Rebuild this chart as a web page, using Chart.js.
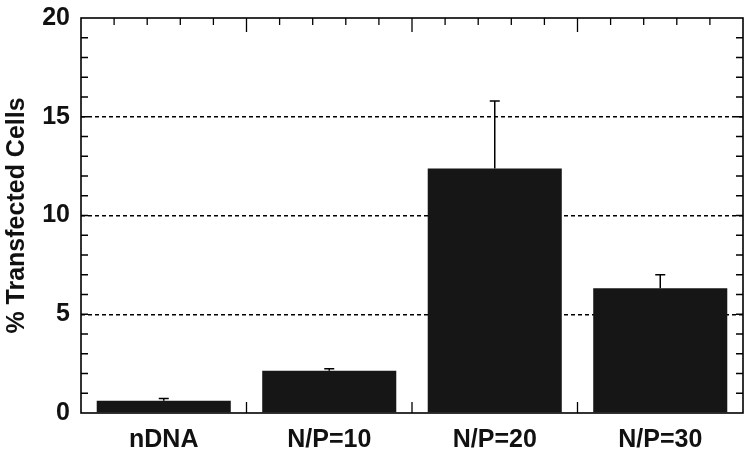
<!DOCTYPE html>
<html>
<head>
<meta charset="utf-8">
<script src="https://cdn.jsdelivr.net/npm/chart.js@4"></script>
<style>
  html, body { margin: 0; padding: 0; background: #fff; }
  #wrap { width: 750px; height: 454px; }
</style>
</head>
<body>
<div id="wrap"><canvas id="myChart"></canvas></div>
<script>
var categories = ['nDNA', 'N/P=10', 'N/P=20', 'N/P=30'];
var transfected = [0.62, 2.14, 12.38, 6.32];
var errors = [0.12, 0.10, 3.42, 0.68];
var yTicks = [0, 5, 10, 15, 20];

// error bars (upper only) + box, inward ticks
var framePlugin = {
	id: 'frame',
	afterDatasetsDraw: function(chart) {
		var ctx = chart.ctx;
		var x = chart.scales.x, y = chart.scales.y;
		var a = chart.chartArea;
		var meta = chart.getDatasetMeta(0);
		ctx.save();
		ctx.strokeStyle = '#000';

		// error bars
		ctx.lineWidth = 1.5;
		for (var i = 0; i < transfected.length; i++) {
			var cx = meta.data[i].x;
			var y0 = y.getPixelForValue(transfected[i]);
			var y1 = y.getPixelForValue(transfected[i] + errors[i]);
			ctx.beginPath();
			ctx.moveTo(cx, y0);
			ctx.lineTo(cx, y1);
			ctx.moveTo(cx - 5, y1);
			ctx.lineTo(cx + 5, y1);
			ctx.stroke();
		}

		// box
		ctx.lineWidth = 1.6;
		ctx.strokeRect(a.left, a.top, a.right - a.left, a.bottom - a.top);

		// y minor ticks, both sides
		ctx.lineWidth = 1.3;
		for (var v = 1; v < 20; v++) {
			var py = y.getPixelForValue(v);
			ctx.beginPath();
			ctx.moveTo(a.left, py);
			ctx.lineTo(a.left + 7, py);
			ctx.moveTo(a.right, py);
			ctx.lineTo(a.right - 7, py);
			ctx.stroke();
		}

		// top and bottom ticks
		var w = (a.right - a.left) / categories.length;
		for (var k = 1; k < categories.length * 5; k++) {
			var px = a.left + w * k / 5;
			var major = k % 5 === 0;
			ctx.beginPath();
			ctx.moveTo(px, a.top);
			ctx.lineTo(px, a.top + (major ? 14 : 7));
			if (major) {
				ctx.moveTo(px, a.bottom);
				ctx.lineTo(px, a.bottom - 11);
			}
			ctx.stroke();
		}
		ctx.restore();
	}
};

var ctx = document.getElementById('myChart').getContext('2d');
var chart = new Chart(ctx, {
	type: 'bar',
	data: {
		labels: categories,
		datasets: [{
			data: transfected,
			backgroundColor: '#161616',
			borderWidth: 0,
			categoryPercentage: 0.81,
			barPercentage: 1.0
		}]
	},
	options: {
		responsive: true,
		maintainAspectRatio: false,
		animation: false,
		layout: { padding: { top: 18, right: 7, left: 0, bottom: 0 } },
		plugins: {
			legend: { display: false },
			tooltip: { enabled: false }
		},
		scales: {
			x: {
				grid: { display: false, drawTicks: false },
				border: { display: false },
				ticks: {
					color: '#111',
					padding: 12,
					font: { family: 'Liberation Sans', size: 25, weight: 'bold' }
				},
				afterFit: function(scale) {
					scale.height = 41;
					scale.paddingLeft = 0;
					scale.paddingRight = 0;
				}
			},
			y: {
				min: 0,
				max: 20,
				afterBuildTicks: function(scale) {
					scale.ticks = yTicks.map(function(v) { return { value: v }; });
				},
				grid: {
					drawTicks: false,
					lineWidth: 1.4,
					color: function(c) {
						var v = c.tick && c.tick.value;
						return (v > 0 && v < 20) ? '#000' : 'rgba(0,0,0,0)';
					}
				},
				border: { display: false, dash: [4, 3] },
				ticks: {
					color: '#111',
					padding: 11,
					font: { family: 'Liberation Sans', size: 25, weight: 'bold' }
				},
				title: {
					display: true,
					text: '% Transfected Cells',
					color: '#111',
					padding: { top: 2, bottom: 0 },
					font: { family: 'Liberation Sans', size: 25, weight: 'bold' }
				},
				afterFit: function(scale) {
					scale.width = 81;
					scale.paddingTop = 0;
					scale.paddingBottom = 0;
				}
			}
		}
	},
	plugins: [framePlugin]
});
</script>
</body>
</html>
